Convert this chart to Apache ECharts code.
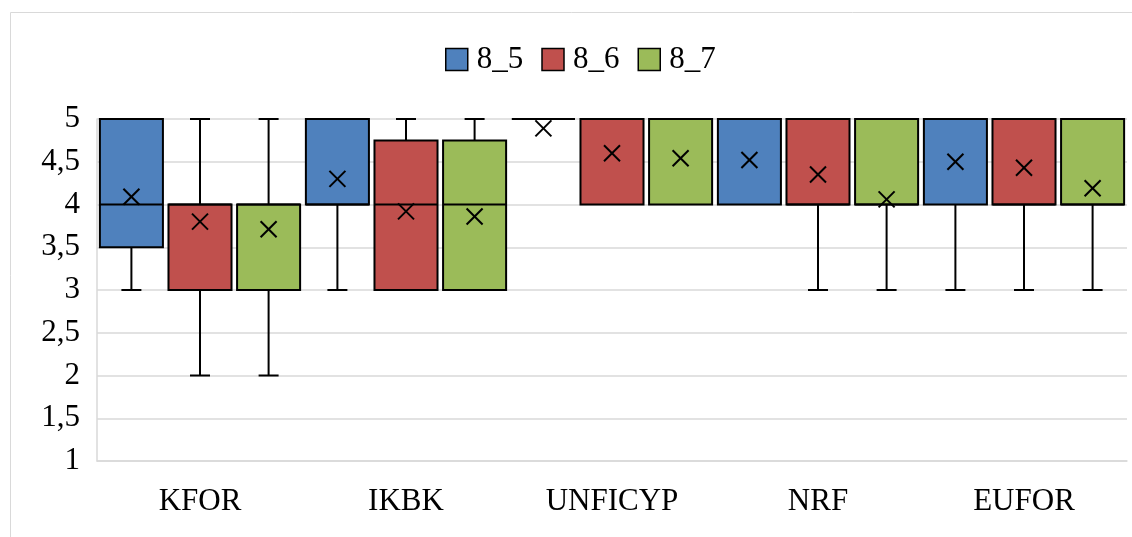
<!DOCTYPE html>
<html>
<head>
<meta charset="utf-8">
<script src="https://cdn.jsdelivr.net/npm/echarts@6/dist/echarts.min.js"></script>
<style>
  html, body { margin: 0; padding: 0; background: #fff; }
  #chart { width: 1132px; height: 537px; }
</style>
</head>
<body>
<div id="chart"></div>
<script>
  // categories on x axis
  const categories = ['KFOR', 'IKBK', 'UNFICYP', 'NRF', 'EUFOR'];
  const seriesNames = ['8_5', '8_6', '8_7'];
  // each row: [min, Q1, median, Q3, max, mean]
  const s8_5 = [
    [3, 3.5, 4, 5, 5, 4.09],
    [3, 4, 4, 5, 5, 4.30],
    [5, 5, 5, 5, 5, 4.89],
    [4, 4, 5, 5, 5, 4.52],
    [3, 4, 5, 5, 5, 4.50]
  ];
  const s8_6 = [
    [2, 3, 4, 4, 5, 3.80],
    [3, 3, 4, 4.75, 5, 3.92],
    [4, 4, 5, 5, 5, 4.60],
    [3, 4, 4, 5, 5, 4.35],
    [3, 4, 4, 5, 5, 4.43]
  ];
  const s8_7 = [
    [2, 3, 4, 4, 5, 3.71],
    [3, 3, 4, 4.75, 5, 3.86],
    [4, 4, 5, 5, 5, 4.54],
    [3, 4, 4, 5, 5, 4.06],
    [3, 4, 4, 5, 5, 4.19]
  ];
  const yTicks = [1, 1.5, 2, 2.5, 3, 3.5, 4, 4.5, 5];

  const colors = ['#4F81BD', '#C0504D', '#9BBB59'];
  const font = 'Liberation Serif';

  function renderBox(params, api) {
    const cat = api.value(0);
    const band = api.size([1, 0])[0];
    const cx = api.coord([cat, 1])[0] + (params.seriesIndex - 1) * band * 0.333;
    const w = band * 0.306;
    const y = i => api.coord([cat, api.value(i)])[1];
    const yMin = y(1), yQ1 = y(2), yMed = y(3), yQ3 = y(4), yMax = y(5), yMean = y(6);
    const ln = {stroke: '#000', lineWidth: 2};
    const kids = [];
    if (yMax < yQ3 - 0.5) {
      kids.push({type: 'line', shape: {x1: cx, y1: yQ3, x2: cx, y2: yMax}, style: ln});
      kids.push({type: 'line', shape: {x1: cx - 10, y1: yMax, x2: cx + 10, y2: yMax}, style: ln});
    }
    if (yMin > yQ1 + 0.5) {
      kids.push({type: 'line', shape: {x1: cx, y1: yQ1, x2: cx, y2: yMin}, style: ln});
      kids.push({type: 'line', shape: {x1: cx - 10, y1: yMin, x2: cx + 10, y2: yMin}, style: ln});
    }
    kids.push({
      type: 'rect',
      shape: {x: cx - w / 2, y: yQ3, width: w, height: yQ1 - yQ3},
      style: {fill: api.visual('color'), stroke: '#000', lineWidth: 2}
    });
    kids.push({type: 'line', shape: {x1: cx - w / 2, y1: yMed, x2: cx + w / 2, y2: yMed}, style: ln});
    const m = 8;
    kids.push({type: 'line', shape: {x1: cx - m, y1: yMean - m, x2: cx + m, y2: yMean + m}, style: ln});
    kids.push({type: 'line', shape: {x1: cx - m, y1: yMean + m, x2: cx + m, y2: yMean - m}, style: ln});
    return {type: 'group', children: kids};
  }

  function toRows(arr) {
    return arr.map((r, i) => [i].concat(r));
  }

  const chart = echarts.init(document.getElementById('chart'));
  chart.setOption({
    animation: false,
    color: colors,
    graphic: [{
      type: 'rect',
      left: 8, top: 10,
      shape: {width: 1130, height: 540},
      style: {fill: 'none', stroke: '#d9d9d9', lineWidth: 1},
      silent: true
    }],
    legend: {
      top: 39,
      left: 440,
      itemWidth: 22,
      itemHeight: 22,
      itemGap: 18,
      icon: 'rect',
      itemStyle: {borderColor: '#000', borderWidth: 1.5},
      textStyle: {fontFamily: font, fontSize: 31, color: '#000', padding: [0, 0, 0, 4]},
      data: seriesNames
    },
    grid: {left: 97, right: 5, top: 119, bottom: 76},
    xAxis: {
      type: 'category',
      data: categories,
      axisTick: {show: false},
      axisLine: {lineStyle: {color: '#d9d9d9', width: 1.5}},
      axisLabel: {fontFamily: font, fontSize: 31, color: '#000', margin: 25}
    },
    yAxis: {
      type: 'value',
      min: 1,
      max: 5,
      interval: 0.5,
      axisLine: {show: true, lineStyle: {color: '#d9d9d9', width: 1.5}},
      axisTick: {show: false},
      splitLine: {lineStyle: {color: '#d9d9d9', width: 1.5}},
      axisLabel: {
        fontFamily: font, fontSize: 31, color: '#000', margin: 17,
        formatter: v => yTicks.includes(v) ? String(v).replace('.', ',') : ''
      }
    },
    series: [s8_5, s8_6, s8_7].map((d, i) => ({
      name: seriesNames[i],
      type: 'custom',
      renderItem: renderBox,
      encode: {x: 0, y: [1, 2, 3, 4, 5, 6]},
      data: toRows(d)
    }))
  });
</script>
</body>
</html>
